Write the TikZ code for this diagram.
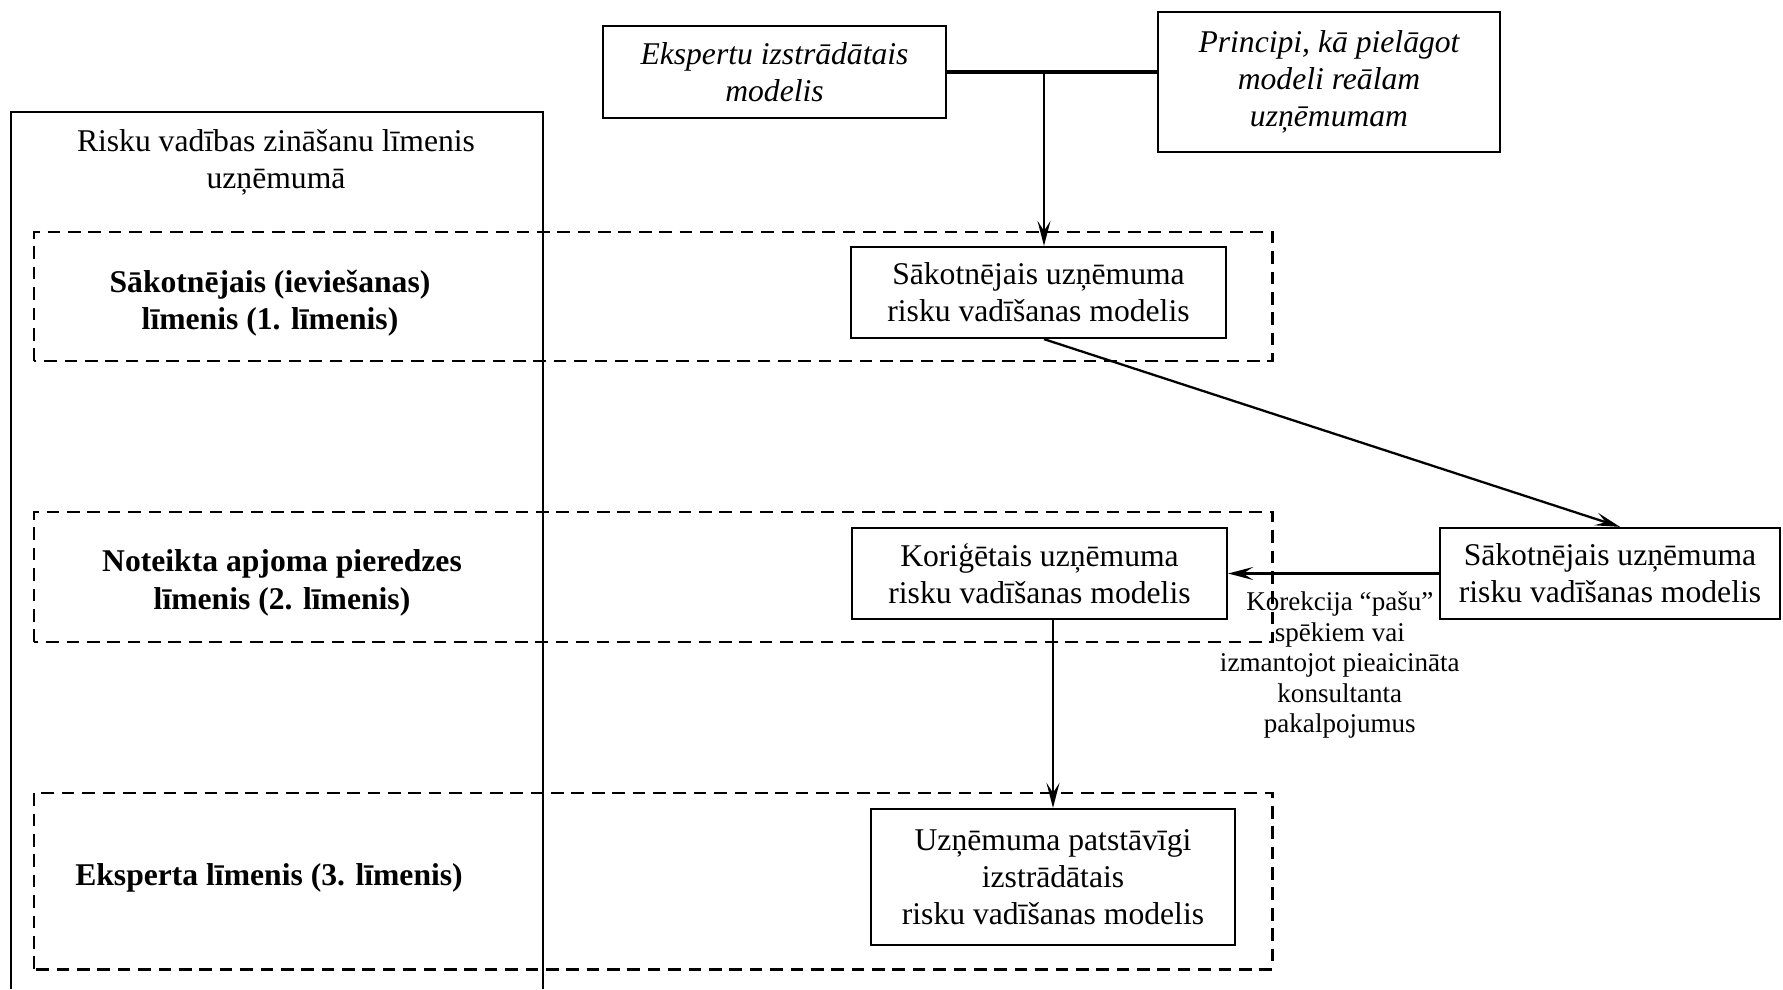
\documentclass[tikz,border=0pt]{standalone}
\usepackage{fontspec}
\setmainfont{Liberation Serif}
\usetikzlibrary{arrows.meta}

\tikzset{
  modelbox/.style={draw, line width=0.65pt, align=center, inner sep=2pt,
    font=\fontsize{9}{10.6}\selectfont},
  ievadbox/.style={modelbox, font=\fontsize{9}{10.6}\selectfont\itshape},
  limenis/.style={align=center, font=\fontsize{9}{10.6}\selectfont\bfseries},
  limrobeza/.style={dash pattern=on 3.6pt off 2.2pt, line width=0.85pt},
  bulta/.style={line width=0.65pt, -{Stealth[length=2.5mm,width=1.3mm,inset=1mm]}},
  piezime/.style={align=center, font=\fontsize{7.7}{8.7}\selectfont}
}

\begin{document}
\begin{tikzpicture}
\useasboundingbox (0,0) rectangle (17.83,9.89);

% Zināšanu līmenis uzņēmumā
\draw[line width=0.65pt] (0.11,0) |- (5.43,8.77) -- (5.43,0);
\node[align=center, font=\fontsize{9}{10.6}\selectfont] (zinas) at (2.76,8.27)
{Risku vadības zināšanu līmenis\\uzņēmumā};

% Līmeņi
\draw[limrobeza] (0.34,6.28) rectangle (12.72,7.57);
\draw[limrobeza] (0.34,3.47) rectangle (12.72,4.77);
\draw[limrobeza] (0.34,0.20) rectangle (12.72,1.96);

\node[limenis] (lim1) at (2.70,6.86) {Sākotnējais (ieviešanas)\\līmenis (1. līmenis)};
\node[limenis] (lim2) at (2.82,4.06) {Noteikta apjoma pieredzes\\līmenis (2. līmenis)};
\node[limenis] (lim3) at (2.69,1.11) {Eksperta līmenis (3. līmenis)};

% Ievaddati
\node[ievadbox, minimum width=3.43cm, minimum height=0.92cm] (ekspert) at (7.745,9.17)
{Ekspertu izstrādātais\\modelis};
\node[ievadbox, minimum width=3.42cm, minimum height=1.40cm] (princip) at (13.29,9.07)
{Principi, kā pielāgot\\modeli reālam\\uzņēmumam};

% Modeļi
\node[modelbox, minimum width=3.75cm, minimum height=0.91cm] (sakotn) at (10.385,6.965)
{Sākotnējais uzņēmuma\\risku vadīšanas modelis};
\node[modelbox, minimum width=3.40cm, minimum height=0.91cm] (sakotnB) at (16.10,4.155)
{Sākotnējais uzņēmuma\\risku vadīšanas modelis};
\node[modelbox, minimum width=3.75cm, minimum height=0.91cm] (korig) at (10.395,4.155)
{Koriģētais uzņēmuma\\risku vadīšanas modelis};
\node[modelbox, minimum width=3.64cm, minimum height=1.36cm] (patst) at (10.53,1.12)
{Uzņēmuma patstāvīgi\\izstrādātais\\risku vadīšanas modelis};

% Savienojumi
\coordinate (apvien) at (10.44,9.17);
\draw[line width=1.1pt] (ekspert.east) -- (ekspert.east -| princip.west);
\draw[bulta] (apvien) -- (apvien |- sakotn.north);
\draw[bulta] (apvien |- sakotn.south) -- ([xshift=1mm]sakotnB.north);
\draw[bulta] (sakotnB.west) -- (korig.east)
  node[piezime, below=1.5pt, pos=0.47] (korekc)
  {Korekcija “pašu”\\spēkiem vai\\izmantojot pieaicināta\\konsultanta\\pakalpojumus};
\draw[bulta] (patst.north |- korig.south) -- (patst.north);

\end{tikzpicture}
\end{document}
